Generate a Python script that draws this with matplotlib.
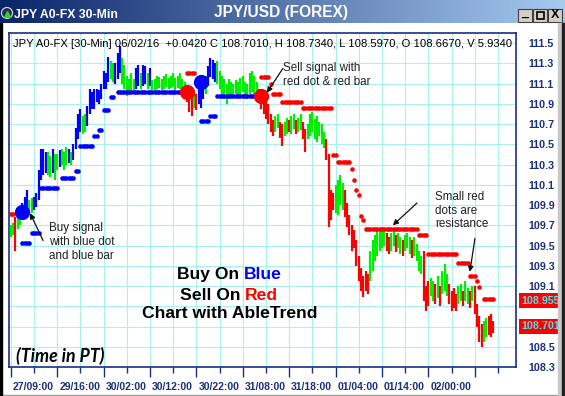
import numpy as np
import matplotlib
matplotlib.use('Agg')
import matplotlib.pyplot as plt
import matplotlib.transforms as mtrans
from matplotlib.colors import LinearSegmentedColormap
from matplotlib.patches import Rectangle, Circle

plt.rcParams['font.family'] = ['Liberation Sans', 'DejaVu Sans']

# ---- data (30-min bars, index 0 = 27/09:00) ----
lows = [
    109.58, 109.60, 109.45, 109.66, 109.70, 109.75, 109.80, 109.85, 109.82, 109.82,
    109.85, 109.88, 109.95, 110.15, 110.20, 110.22, 110.20, 110.18, 110.22, 110.15,
    110.25, 110.28, 110.30, 110.25, 110.30, 110.32, 110.30, 110.35, 110.45, 110.55,
    110.62, 110.60, 110.62, 110.68, 110.80, 110.85, 110.85, 110.92, 110.90, 110.95,
    111.05, 111.05, 111.12, 111.15, 111.12, 111.10, 111.15, 111.20, 111.10, 111.05,
    110.98, 111.00, 111.03, 111.02, 111.05, 111.08, 111.05, 111.08, 111.10, 111.05,
    111.08, 111.04, 111.03, 111.05, 111.06, 111.04, 111.05, 111.07, 111.05, 111.06,
    111.07, 111.04, 111.06, 111.05, 111.03, 111.00, 110.92, 110.82, 110.78, 110.86,
    110.84, 110.90, 110.86, 110.95, 111.00, 111.08, 111.17, 111.15, 111.12, 111.10,
    111.05, 111.00, 110.95, 110.90, 110.98, 110.96, 110.98, 111.00, 110.96, 110.98,
    111.02, 110.98, 110.95, 111.00, 111.02, 111.00, 110.98, 110.92, 110.85, 110.80,
    110.75, 110.70, 110.62, 110.58, 110.62, 110.66, 110.56, 110.48, 110.58, 110.60,
    110.62, 110.60, 110.65, 110.60, 110.62, 110.64, 110.55, 110.42, 110.55, 110.58,
    110.62, 110.55, 110.52, 110.58, 110.50, 110.46, 110.35, 109.68, 109.75, 109.85,
    109.82, 109.80, 109.90, 109.85, 109.78, 109.68, 109.60, 109.45, 109.48, 109.30,
    109.15, 109.05, 108.99, 109.05, 109.02, 109.15, 109.25, 109.35, 109.40, 109.45,
    109.48, 109.50, 109.45, 109.42, 109.45, 109.50, 109.44, 109.48, 109.42, 109.40,
    109.45, 109.48, 109.42, 109.38, 109.40, 109.35, 109.25, 109.22, 108.95, 108.85,
    108.90, 109.00, 108.95, 108.92, 108.98, 108.90, 109.02, 109.05, 109.00, 108.92,
    108.85, 108.88, 108.85, 108.92, 108.95, 108.90, 108.95, 108.92, 108.88, 108.95,
    108.82, 108.70, 108.55, 108.50, 108.55, 108.60, 108.62, 108.60, 108.64,
]
highs = [
    109.70, 109.72, 109.78, 109.80, 109.82, 109.92, 109.98, 110.05, 109.95, 109.97,
    109.98, 110.02, 110.25, 110.45, 110.45, 110.42, 110.42, 110.38, 110.45, 110.40,
    110.40, 110.44, 110.45, 110.42, 110.47, 110.45, 110.42, 110.50, 110.66, 110.80,
    110.85, 110.78, 110.80, 110.88, 111.05, 111.02, 111.05, 111.05, 111.04, 111.10,
    111.22, 111.20, 111.36, 111.32, 111.30, 111.30, 111.40, 111.47, 111.35, 111.28,
    111.18, 111.15, 111.20, 111.15, 111.25, 111.28, 111.20, 111.28, 111.27, 111.20,
    111.25, 111.14, 111.15, 111.18, 111.17, 111.15, 111.18, 111.19, 111.16, 111.18,
    111.20, 111.16, 111.18, 111.20, 111.15, 111.12, 111.08, 111.02, 110.98, 111.00,
    111.00, 111.08, 111.12, 111.15, 111.18, 111.27, 111.35, 111.33, 111.30, 111.32,
    111.22, 111.18, 111.15, 111.10, 111.15, 111.12, 111.10, 111.14, 111.12, 111.16,
    111.18, 111.12, 111.10, 111.20, 111.22, 111.18, 111.12, 111.05, 111.05, 111.00,
    110.95, 110.90, 110.80, 110.74, 110.78, 110.80, 110.72, 110.70, 110.72, 110.76,
    110.74, 110.78, 110.80, 110.74, 110.76, 110.80, 110.72, 110.65, 110.70, 110.80,
    110.82, 110.75, 110.78, 110.72, 110.70, 110.62, 110.55, 110.40, 110.05, 110.02,
    110.10, 110.15, 110.20, 110.12, 110.05, 109.92, 109.80, 109.70, 109.65, 109.55,
    109.40, 109.28, 109.20, 109.25, 109.22, 109.45, 109.55, 109.60, 109.65, 109.64,
    109.66, 109.65, 109.62, 109.58, 109.62, 109.64, 109.60, 109.62, 109.58, 109.55,
    109.60, 109.62, 109.58, 109.55, 109.58, 109.52, 109.45, 109.40, 109.45, 109.10,
    109.15, 109.18, 109.15, 109.12, 109.20, 109.10, 109.25, 109.32, 109.22, 109.12,
    109.05, 109.08, 109.02, 109.10, 109.12, 109.05, 109.15, 109.08, 109.05, 109.10,
    109.10, 108.92, 108.80, 108.72, 108.75, 108.78, 108.80, 108.82, 108.75,
]
# b = blue (up), g = green (neutral), r = red (down)
bar_colors = ("ggrggbbbgg" "bbbbbbggbg" "gbgggbgbbb" "bggbbbbbbb" "bbbggbbbgg"
              "ggggbbgbbg" "bggggggggg" "ggggggrrrg" "rbbbgbbbbg" "gggggggggg"
              "gggggggrrr" "rrrrggrrgg" "rggrggrrgg" "ggggggrrrr" "ggggrrrrrr"
              "rrrrrggggg" "ggrrggrggr" "gggrggggrr" "rggrgrgggr" "rrrggrggrg"
              "rrrrggrrr")

# stop dots: (first bar, last bar, level)
support_stops = [
    (5, 8, 109.53), (9, 12, 109.62), (13, 20, 110.07), (22, 27, 110.17),
    (28, 29, 110.24), (30, 35, 110.48), (36, 37, 110.58), (38, 39, 110.64),
    (40, 42, 110.84), (43, 44, 110.97), (46, 75, 111.02),
    (82, 85, 110.73), (86, 88, 110.78), (89, 106, 110.98),
]
resistance_stops = [
    (-1, 1, 109.81), (76, 79, 111.20), (108, 111, 111.17), (112, 112, 111.10),
    (113, 116, 111.00), (117, 125, 110.92), (126, 138, 110.86), (139, 140, 110.39),
    (141, 146, 110.33), (147, 147, 110.26), (148, 148, 110.15), (149, 149, 110.05),
    (150, 150, 110.00), (151, 151, 109.79), (152, 152, 109.75), (153, 175, 109.66),
    (176, 179, 109.60), (180, 192, 109.42), (193, 197, 109.33), (198, 200, 109.20),
    (201, 201, 109.15), (202, 202, 109.09), (204, 208, 108.97),
]

buy_bars = [5, 82]
buy_levels = [109.83, 111.12]
sell_bars = [76, 108]
sell_levels = [111.02, 110.98]

time_labels = ['27/09:00', '29/16:00', '30/02:00', '30/12:00', '30/22:00',
               '31/08:00', '31/18:00', '01/04:00', '01/14:00', '02/00:00', '']
y_ticks = [108.3, 108.5, 108.7, 108.9, 109.1, 109.3, 109.5, 109.7, 109.9,
           110.1, 110.3, 110.5, 110.7, 110.9, 111.1, 111.3, 111.5]
hidden_ticks = [108.7, 108.9]   # covered by the price badges
last_stop = 108.955
last_close = 108.701

BLUE, GREEN, RED = '#0000ff', '#00ee00', '#ff0000'
cmap_bar = {'b': BLUE, 'g': GREEN, 'r': RED}
NAVY = '#1a2f80'

W, H = 565, 396
fig = plt.figure(figsize=(W / 100, H / 100), dpi=100)
fig.patch.set_facecolor('white')

# ---- window chrome, pixel coordinates ----
chrome = fig.add_axes([0, 0, 1, 1])
chrome.set_zorder(0)
chrome.patch.set_alpha(0)
grad = np.linspace(0, 1, 256).reshape(1, -1)
tb_cmap = LinearSegmentedColormap.from_list('tb', ['#0a246a', '#a6caf0'])
chrome.imshow(grad, cmap=tb_cmap, extent=[0, W, 23, 0], aspect='auto')
chrome.set_xlim(0, W)
chrome.set_ylim(H, 0)
chrome.axis('off')
chrome.plot([0, 558], [394.5, 394.5], color='#a0a0a0', lw=1)
chrome.add_patch(Circle((7, 13), 5.5, fc='#203050', ec='#e0e0e0', lw=0.8))
chrome.plot([7], [13.5], marker='^', ms=4.5, color='#30d030')
chrome.text(14, 14.5, 'JPY A0-FX 30-Min', color='white', fontsize=8.8,
            fontweight='bold', va='center', ha='left')
chrome.text(281, 12, 'JPY/USD (FOREX)', color='white', fontsize=11.2,
            fontweight='bold', va='center', ha='center')
for bx, sym in zip([518, 533, 548], ['_', 'box', 'X']):
    chrome.add_patch(Rectangle((bx, 8.5), 14, 13, fc='#d4d0c8', ec='#404040', lw=0.8))
    if sym == 'box':
        chrome.add_patch(Rectangle((bx + 3.5, 11.5), 7, 7, fc='none', ec='black', lw=1.2))
    else:
        chrome.text(bx + 7, 15.5 if sym == 'X' else 13, sym, fontsize=9,
                    fontweight='bold', ha='center', va='center')

# frame edges drawn above everything else
frame = fig.add_axes([0, 0, 1, 1])
frame.set_zorder(5)
frame.patch.set_alpha(0)
frame.set_xlim(0, W)
frame.set_ylim(H, 0)
frame.axis('off')
frame.add_patch(Rectangle((0, 23), 1.8, H - 23, color='black'))
frame.add_patch(Rectangle((558, 23), 3.5, H - 23, color='#c8c8c8'))
frame.add_patch(Rectangle((561.5, 23), 3.5, H - 23, color='#202020'))

# ---- main chart ----
ax = fig.add_axes([9 / W, 1 - 367 / H, (516 - 9) / W, (367 - 33) / H])
ax.set_zorder(1)
idx = np.arange(len(lows))
ax.vlines(idx, lows, highs, colors=[cmap_bar[c] for c in bar_colors],
          linewidth=1.6, zorder=3)

for a, b, lvl in support_stops:
    xs = np.arange(a, b + 1)
    ax.plot(xs, np.full(len(xs), lvl), 'o', ms=3.3, color=BLUE, mew=0, zorder=4)
for a, b, lvl in resistance_stops:
    xs = np.arange(a, b + 1)
    ax.plot(xs, np.full(len(xs), lvl), 'o', ms=3.3, color=RED, mew=0, zorder=4)

ax.plot(buy_bars, buy_levels, 'o', ms=11, color=BLUE, mew=0, zorder=5)
ax.plot(sell_bars, sell_levels, 'o', ms=11, color=RED, mew=0, zorder=5)

ax.set_xlim(-0.78, 217.8)
ax.set_ylim(108.3, 111.6)

ax.set_xticks(np.arange(0, 201, 20))
ax.set_xticklabels(time_labels)
ax.set_xticks(np.arange(10, 211, 20), minor=True)
ax.tick_params(axis='x', which='major', length=7, width=1, color=NAVY,
               labelsize=7.5, labelcolor=NAVY, pad=4)
ax.tick_params(axis='x', which='minor', length=4, width=1, color=NAVY)
offset = mtrans.ScaledTranslation(2 / 100, 0, fig.dpi_scale_trans)
for lbl in ax.get_xticklabels():
    lbl.set_ha('left')
    lbl.set_fontweight('bold')
    lbl.set_transform(lbl.get_transform() + offset)

ax.yaxis.tick_right()
ax.set_yticks(y_ticks)
ax.set_yticklabels(['' if v in hidden_ticks else f'{v:.1f}' for v in y_ticks])
ax.tick_params(axis='y', length=0, pad=9, labelsize=7.7, labelcolor=NAVY)
for lbl in ax.get_yticklabels():
    lbl.set_fontweight('bold')

ax.grid(True, which='both', color='#aaf0f0', lw=0.8)
ax.set_axisbelow(True)
for sp in ax.spines.values():
    sp.set_color(NAVY)
    sp.set_linewidth(1.2)

# price badges on the right axis
for val, txt in [(last_stop, '108.9559'), (last_close, '108.7010')]:
    ax.annotate(txt, xy=(1.0099, val), xycoords=('axes fraction', 'data'),
                fontsize=7.7, fontweight='bold', color='#40e8f0', va='center',
                ha='left', annotation_clip=False, zorder=10,
                bbox=dict(boxstyle='square,pad=0.22', fc=RED, ec='none'))

# header line
ax.text(0.008, 0.967,
        'JPY A0-FX [30-Min] 06/02/16  +0.0420 C 108.7010, H 108.7340, '
        'L 108.5970, O 108.6670, V 5.9340',
        transform=ax.transAxes, fontsize=8.1, color='black', va='center', ha='left')

# annotations
arrow = dict(arrowstyle='-|>', color='#111111', lw=0.9, mutation_scale=8,
             shrinkA=0, shrinkB=0)
ax.annotate('', xy=(8.3, 109.82), xytext=(13.9, 109.55), arrowprops=arrow, zorder=6)
ax.text(16.5, 109.73, 'Buy signal\nwith blue dot\nand blue bar', fontsize=8.4,
        color='#222222', va='top', ha='left', linespacing=1.2)
ax.annotate('', xy=(110.4, 111.01), xytext=(117.3, 111.25), arrowprops=arrow, zorder=6)
ax.text(117.3, 111.31, 'Sell signal with\nred dot & red bar', fontsize=8.4,
        color='#222222', va='top', ha='left', linespacing=1.2)
ax.annotate('', xy=(164.7, 109.70), xytext=(175.1, 109.92), arrowprops=arrow, zorder=6)
ax.annotate('', xy=(197.9, 109.24), xytext=(200.1, 109.57), arrowprops=arrow, zorder=6)
ax.text(182.9, 110.04, 'Small red\ndots are\nresistance', fontsize=8.4,
        color='#222222', va='top', ha='left', linespacing=1.2)

# centre message
t1 = ax.text(71.6, 109.21, 'Buy On', fontsize=12.6, fontweight='bold', va='center', ha='left')
ax.annotate('Blue', xy=(1, 0), xycoords=t1, xytext=(3.5, 0), textcoords='offset points',
            fontsize=12.6, fontweight='bold', color=BLUE, va='bottom', ha='left')
t2 = ax.text(72.9, 109.01, 'Sell On', fontsize=12.6, fontweight='bold', va='center', ha='left')
ax.annotate('Red', xy=(1, 0), xycoords=t2, xytext=(3.5, 0), textcoords='offset points',
            fontsize=12.6, fontweight='bold', color=RED, va='bottom', ha='left')
ax.text(94.5, 108.83, 'Chart with AbleTrend', fontsize=12.6, fontweight='bold',
        va='center', ha='center')

ax.text(0.0138, 0.033, '(Time in PT)', transform=ax.transAxes, fontsize=12.8,
        fontweight='bold', style='italic', family=['Lato', 'DejaVu Sans'],
        va='center', ha='left')

fig.savefig('out.png', dpi=100)
